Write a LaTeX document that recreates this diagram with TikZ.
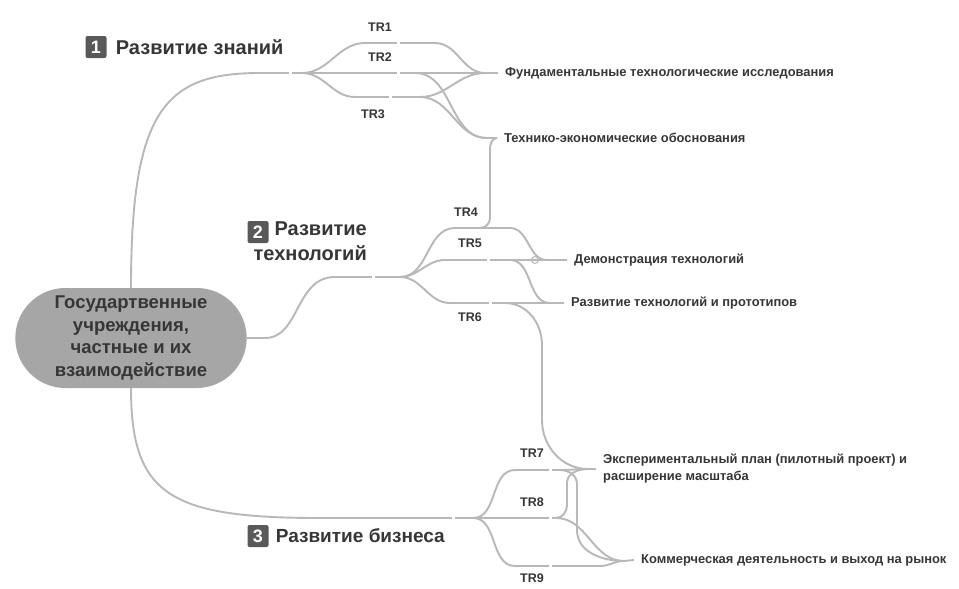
\documentclass[tikz,border=0pt]{standalone}
\usepackage{fontspec}
\setmainfont{Liberation Sans}
\usetikzlibrary{positioning,shapes.misc}
\definecolor{linegrey}{HTML}{B8B8B8}
\definecolor{rootgrey}{HTML}{A6A6A6}
\definecolor{boxgrey}{HTML}{595959}
\definecolor{ink}{HTML}{363636}
\begin{document}
\begin{tikzpicture}[x=1pt,y=-1pt,
    branch/.style={draw=linegrey,line width=1.9pt},
    rootbox/.style={rounded rectangle,fill=rootgrey,minimum width=238pt,minimum height=100pt,
      align=center,text=ink,font=\fontsize{18.5}{22.5}\selectfont\bfseries},
    numbox/.style={fill=boxgrey,text=white,rounded corners=2pt,minimum width=21pt,minimum height=22pt,
      inner sep=0pt,font=\fontsize{18}{18}\selectfont\bfseries},
    head/.style={text=ink,inner sep=0pt,font=\fontsize{20}{25}\selectfont\bfseries},
    target/.style={anchor=west,text=ink,inner xsep=7pt,inner ysep=1pt,align=left,
      font=\fontsize{12.9}{17}\selectfont\bfseries},
    trlab/.style={text=ink,inner sep=0pt,font=\fontsize{12.5}{12.5}\selectfont\bfseries}]
  \useasboundingbox[fill=white] (0,0) rectangle (959,589);

  % root and headings
  \node[rootbox] (root) at (131,338) {Государтвенные\\учреждения,\\частные и их\\взаимодействие};
  \node[numbox] (n1) at (96,47) {1};
  \node[head,right=9pt of n1] (kn) {Развитие знаний};
  \node[numbox] (n2) at (258,232) {2};
  \node[head,align=right,anchor=north east] (tech) at (367,222) {Развитие\\технологий};
  \node[numbox] (n3) at (258,536) {3};
  \node[head,right=7pt of n3,font=\fontsize{19}{24}\selectfont\bfseries] (biz) {Развитие бизнеса};

  % targets
  \node[target] (fund) at (498,73) {Фундаментальные технологические исследования};
  \node[target] (teo) at (497,138) {Технико-экономические обоснования};
  \node[target] (demo) at (567,260) {Демонстрация технологий};
  \node[target] (proto) at (564,303) {Развитие технологий и прототипов};
  \node[target] (pilot) at (596,469) {Экспериментальный план (пилотный проект) и\\расширение масштаба};
  \node[target] (market) at (634,560) {Коммерческая деятельность и выход на рынок};

  % split and merge points
  \coordinate (s1) at (302,73);
  \coordinate (s2) at (400,277);
  \coordinate (s3) at (473,518);
  \coordinate (mf) at (485,73);
  \coordinate (mt) at (487,138);
  \coordinate (md) at (547,260);
  \coordinate (mp) at (550,303);
  \coordinate (mpl) at (588,469);
  \coordinate (mm) at (624,561);

  % main branches
  \draw[branch] (root.north) .. controls (131,110) and (165,73) .. (260,73) -- (s1);
  \draw[branch] (root.east) -- (265,338) .. controls (300,338) and (295,277) .. (335,277) -- (s2);
  \draw[branch] (root.south) .. controls (131,495) and (170,518) .. (320,518) -- (s3);

  % knowledge
  \draw[branch] (s1) to[out=0,in=180] (365,43) -- (435,43) to[out=0,in=180] (mf);
  \draw[branch] (s1) -- (mf) -- (fund.west);
  \draw[branch] (s1) to[out=0,in=180] (355,97) -- (420,97) to[out=0,in=180] (mf);
  \draw[branch] (415,73) to[out=0,in=180] (mt);
  \draw[branch] (420,97) to[out=0,in=180] (mt) -- (teo.west);
  \draw[branch] (teo.west) to[out=180,in=90] (490,150) -- (490,218) to[out=-90,in=0] (480,228);

  % technology
  \draw[branch] (s2) to[out=0,in=180] (455,228) -- (510,228) to[out=0,in=180] (md);
  \draw[branch] (s2) to[out=0,in=180] (445,260) -- (md) -- (demo.west);
  \draw[branch] (s2) to[out=0,in=180] (450,303) -- (mp) -- (proto.west);
  \draw[branch] (510,260) to[out=0,in=180] (mp);
  \draw[branch] (505,303) to[out=0,in=90] (542,345) -- (542,420) to[out=-90,in=180] (mpl);
  \draw[linegrey,line width=1pt] (535,260) circle (3.5);

  % business
  \draw[branch] (s3) to[out=0,in=180] (515,470) -- (560,470) to[out=0,in=180] (mpl) -- (pilot.west);
  \draw[branch] (s3) -- (556,518);
  \draw[branch] (556,518) to[out=0,in=-90] (567,505) -- (567,483) to[out=90,in=180] (mpl);
  \draw[branch] (556,518) to[out=0,in=180] (mm);
  \draw[branch] (560,470) to[out=0,in=90] (577,484) -- (577,530) to[out=-90,in=180] (mm);
  \draw[branch] (s3) to[out=0,in=180] (515,566) -- (600,566) to[out=0,in=180] (mm) -- (market.west);

  % small breaks in the lines
  \foreach \p in {(290,73),(398,43),(398,73),(390,97),(373,277),(488,260),(490,303),
      (453,518),(550,470),(550,518),(550,566)}
    \fill[white] \p ++(-1.5,-2.5) rectangle ++(3,5);

  % labels
  \node[trlab] (tr1) at (380,27) {TR1};
  \node[trlab] (tr2) at (380,57) {TR2};
  \node[trlab] (tr3) at (373,114) {TR3};
  \node[trlab] (tr4) at (466,212) {TR4};
  \node[trlab] (tr5) at (470,243) {TR5};
  \node[trlab] (tr6) at (470,317) {TR6};
  \node[trlab] (tr7) at (532,453) {TR7};
  \node[trlab] (tr8) at (532,502) {TR8};
  \node[trlab] (tr9) at (532,578) {TR9};
\end{tikzpicture}
\end{document}
